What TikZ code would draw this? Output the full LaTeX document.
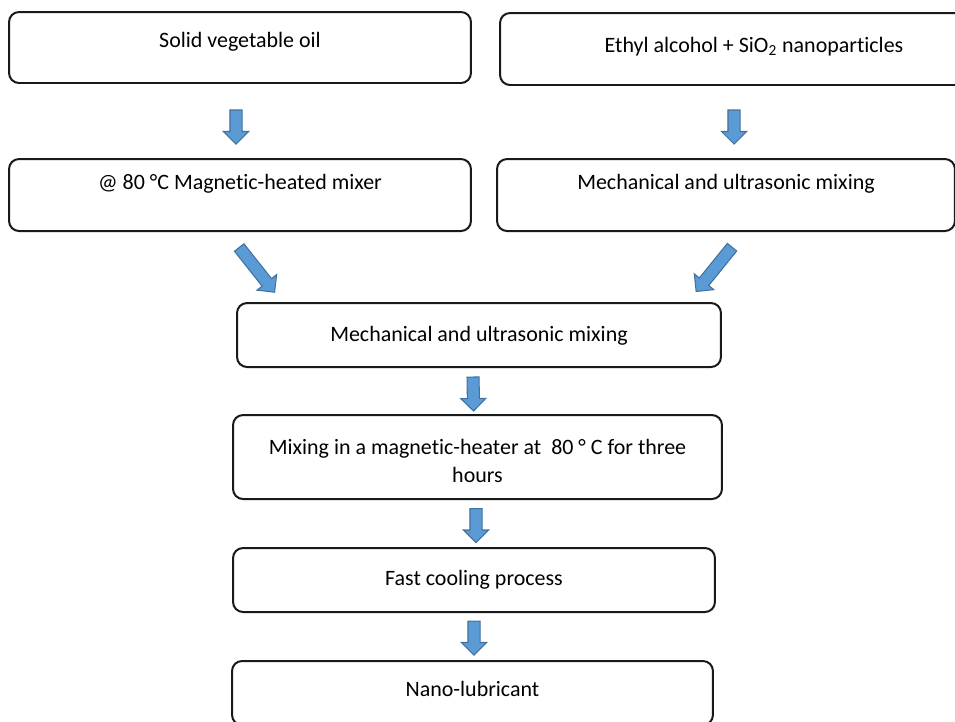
\documentclass[tikz,border=0pt]{standalone}
\usepackage{fontspec}
\setmainfont{Carlito}[Ligatures=NoCommon]
\usetikzlibrary{shapes.arrows}
\definecolor{arrowblue}{RGB}{91,155,213}
\definecolor{arrowedge}{RGB}{65,113,156}

\begin{document}
\begin{tikzpicture}[
  x=0.02cm, y=-0.02cm,
  stage/.style={
    draw=black!90,
    line width=0.4mm,
    rounded corners=2mm,
    align=center,
    inner sep=0pt,
    font=\fontsize{12.5}{15.8}\selectfont
  },
  fatarrow/.style={
    single arrow,
    draw=arrowedge,
    fill=arrowblue,
    line width=0.6pt,
    inner sep=1.1mm,
    single arrow head extend=1.3mm,
    minimum width=0pt,
    minimum height=6.8mm,
    sloped,
    allow upside down,
    midway
  }
]
\useasboundingbox (0,0) rectangle (955,721);
\clip (0,0) rectangle (955,721);

\node[stage, minimum width=92.4mm, minimum height=14.2mm, text height=2mm, text depth=2mm] (oil) at (240,47.5) {Solid vegetable oil};
\node[stage, minimum width=101.6mm, minimum height=14.4mm, text height=3.2mm, text depth=2mm] (ethanol) at (754,49) {Ethyl alcohol + SiO\textsubscript{2} nanoparticles};
\node[stage, minimum width=92.4mm, minimum height=14.4mm, text height=2mm, text depth=4.4mm] (heat) at (240,195) {@ 80 °C Magnetic-heated mixer};
\node[stage, minimum width=91.6mm, minimum height=14.4mm, text height=2mm, text depth=4.4mm] (sonic) at (726,195) {Mechanical and ultrasonic mixing};
\node[stage, minimum width=96.8mm, minimum height=12.8mm, text height=4.4mm, text depth=2mm] (mix) at (479,335) {Mechanical and ultrasonic mixing};
\node[stage, minimum width=97.8mm, minimum height=16.8mm, text height=12mm, text depth=2mm] (stir) at (477.5,457) {Mixing in a magnetic-heater at \ 80 ° C for three\\hours};
\node[stage, minimum width=96.4mm, minimum height=12.8mm, text height=4mm, text depth=2mm] (cool) at (474,580) {Fast cooling process};
\node[stage, minimum width=96.2mm, minimum height=12.8mm, text height=3.2mm, text depth=2mm] (lube) at (472.5,693) {Nano-lubricant};

% block arrows
\path ([shift={(-4,24)}]oil.south) -- ([shift={(-4,-18)}]heat.north) node[fatarrow] (a1) {};
\path ([shift={(-20,22)}]ethanol.south) -- ([shift={(8,-18)}]sonic.north) node[fatarrow] (a2) {};
\path ([shift={(-2,14)}]heat.south) -- ([shift={(36,-13)}]mix.north west) node[fatarrow, minimum height=11.4mm] (a3) {};
\path ([shift={(7,14)}]sonic.south) -- ([shift={(-23,-14)}]mix.north east) node[fatarrow, minimum height=11.4mm] (a4) {};
\path ([shift={(-6,7)}]mix.south) -- ([shift={(-4,-7)}]stir.north) node[fatarrow] (a5) {};
\path ([shift={(-1.5,6)}]stir.south) -- ([shift={(2,-8)}]cool.north) node[fatarrow] (a6) {};
\path ([shift={(0,6)}]cool.south) -- ([shift={(1.5,-9)}]lube.north) node[fatarrow] (a7) {};
\end{tikzpicture}
\end{document}
